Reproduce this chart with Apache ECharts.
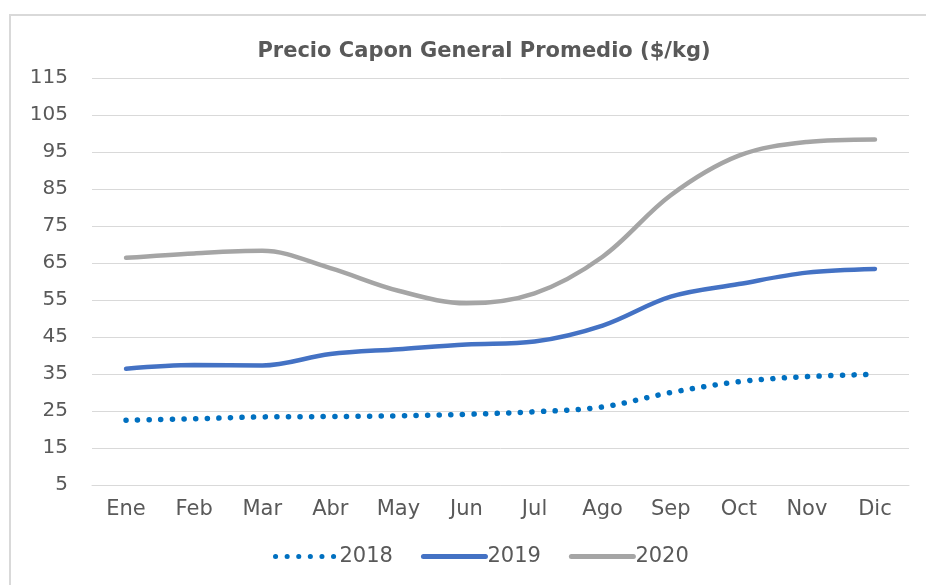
<!DOCTYPE html>
<html>
<head>
<meta charset="utf-8">
<script src="https://cdn.jsdelivr.net/npm/echarts@6/dist/echarts.min.js"></script>
<style>
  html, body { margin: 0; padding: 0; background: #fff; }
  #chart { width: 926px; height: 585px; }
</style>
</head>
<body>
<div id="chart"></div>
<script>
// data
const months = ['Ene', 'Feb', 'Mar', 'Abr', 'May', 'Jun', 'Jul', 'Ago', 'Sep', 'Oct', 'Nov', 'Dic']
const years = ['2018', '2019', '2020']
const values2018 = [22.5, 22.9, 23.4, 23.5, 23.7, 24.1, 24.8, 26.1, 30.0, 32.9, 34.3, 34.9]
const values2019 = [36.4, 37.4, 37.3, 40.4, 41.7, 43.0, 43.8, 48.1, 55.9, 59.3, 62.4, 63.4]
const values2020 = [66.4, 67.6, 68.3, 63.6, 57.5, 54.1, 56.8, 66.7, 83.3, 94.0, 97.7, 98.4]
const yMin = 5
const yMax = 115
const yStep = 10

const textColor = '#595959'
const font = 'DejaVu Sans'
const colors = ['#0070C0', '#4472C4', '#A5A5A5']
const dotted = [0.1, 11.5]

const chart = echarts.init(document.getElementById('chart'))

chart.setOption({
  backgroundColor: '#ffffff',
  animation: false,
  graphic: [
    {
      type: 'rect',
      shape: { x: 10, y: 15, width: 1000, height: 1000 },
      style: { fill: 'none', stroke: '#d9d9d9', lineWidth: 2 },
      silent: true
    }
  ],
  title: {
    text: 'Precio Capon General Promedio ($/kg)',
    left: 479,
    textAlign: 'center',
    top: 36,
    textStyle: {
      color: textColor,
      fontFamily: font,
      fontSize: 21,
      fontWeight: 'bold'
    }
  },
  grid: {
    left: 92,
    right: 17,
    top: 78,
    bottom: 100,
    containLabel: false
  },
  legend: {
    bottom: 13,
    left: 268,
    itemWidth: 62,
    itemHeight: 12,
    itemGap: 28,
    textStyle: { color: textColor, fontFamily: font, fontSize: 21, padding: [0, 0, 0, -3] },
    data: years.map((y, i) => ({
      name: y,
      itemStyle: { opacity: 0 },
      lineStyle: {
        width: 5,
        color: colors[i],
        type: i === 0 ? dotted : 'solid',
        cap: 'round'
      }
    }))
  },
  xAxis: {
    type: 'category',
    data: months,
    boundaryGap: true,
    axisLine: { show: true, lineStyle: { color: '#d9d9d9', width: 1 } },
    axisTick: { show: false },
    axisLabel: { color: textColor, fontFamily: font, fontSize: 21, margin: 14 }
  },
  yAxis: {
    type: 'value',
    min: yMin,
    max: yMax,
    interval: yStep,
    axisLine: { show: false },
    axisTick: { show: false },
    axisLabel: { color: textColor, fontFamily: font, fontSize: 20, margin: 24 },
    splitLine: { lineStyle: { color: '#d9d9d9', width: 1 } }
  },
  series: [
    {
      name: '2018',
      type: 'line',
      data: values2018,
      smooth: 0.35,
      symbol: 'none',
      color: colors[0],
      lineStyle: { width: 5.5, type: dotted, cap: 'round', color: colors[0] }
    },
    {
      name: '2019',
      type: 'line',
      data: values2019,
      smooth: 0.35,
      symbol: 'none',
      color: colors[1],
      lineStyle: { width: 4.5, cap: 'round', color: colors[1] }
    },
    {
      name: '2020',
      type: 'line',
      data: values2020,
      smooth: 0.35,
      symbol: 'none',
      color: colors[2],
      lineStyle: { width: 4.5, cap: 'round', color: colors[2] }
    }
  ]
})
</script>
</body>
</html>
